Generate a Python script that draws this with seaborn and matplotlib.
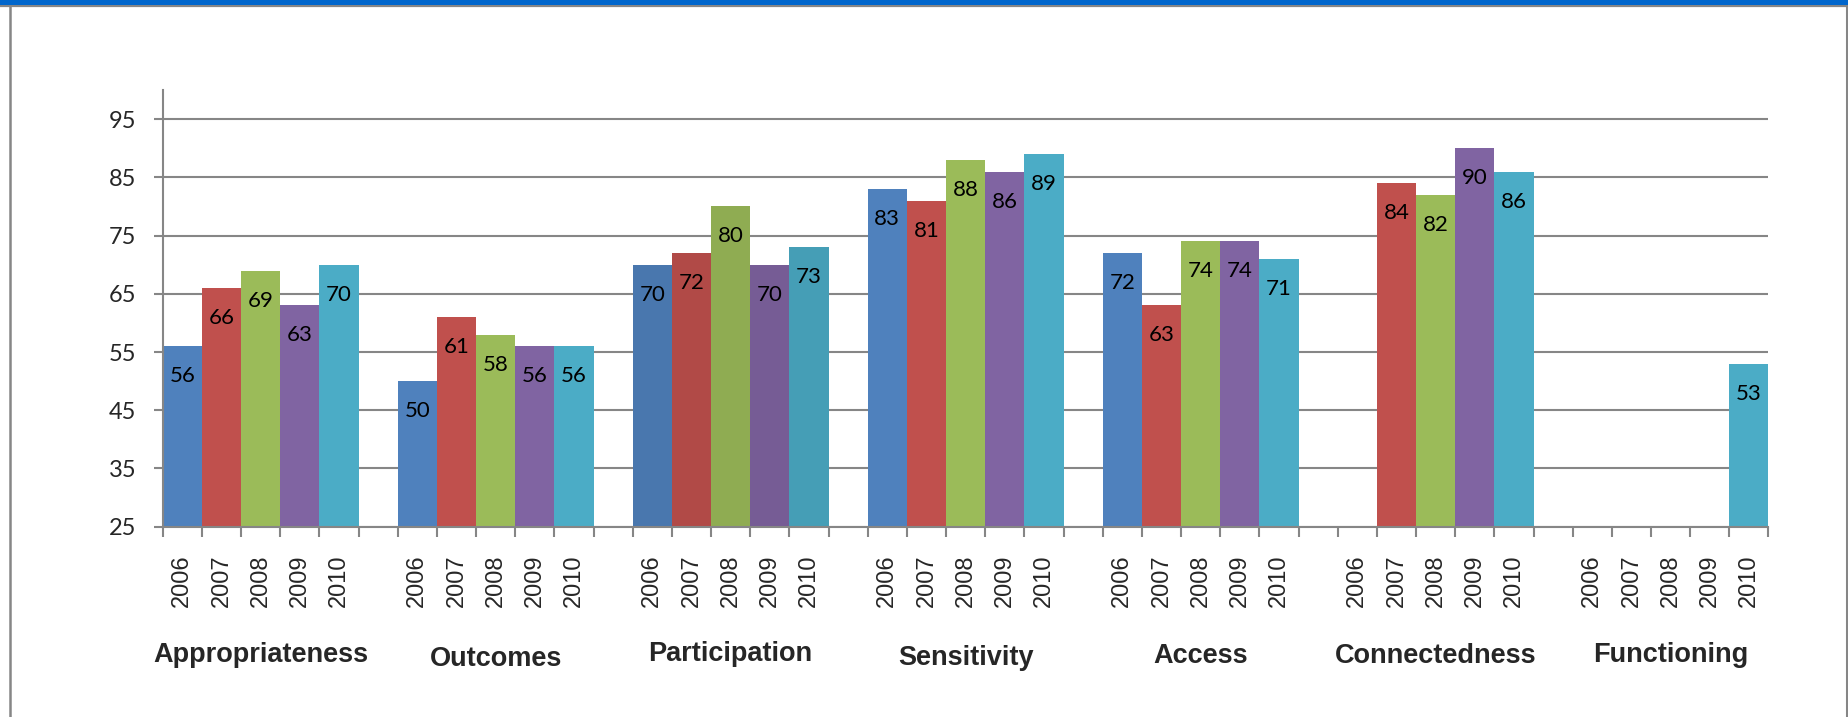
import numpy as np
import pandas as pd
import matplotlib
matplotlib.use("Agg")
import matplotlib.pyplot as plt
import matplotlib.transforms as mtransforms
from matplotlib.patches import Rectangle
from matplotlib.lines import Line2D
import seaborn as sns

# ---- data -------------------------------------------------------------
categories = ["Appropriateness", "Outcomes", "Participation", "Sensitivity",
              "Access", "Connectedness", "Functioning"]
years = ["2006", "2007", "2008", "2009", "2010"]

appropriateness = [56, 66, 69, 63, 70]
outcomes = [50, 61, 58, 56, 56]
participation = [70, 72, 80, 70, 73]
sensitivity = [83, 81, 88, 86, 89]
access = [72, 63, 74, 74, 71]
connectedness = [np.nan, 84, 82, 90, 86]
functioning = [np.nan, np.nan, np.nan, np.nan, 53]

series = [appropriateness, outcomes, participation, sensitivity,
          access, connectedness, functioning]

y_ticks = [25, 35, 45, 55, 65, 75, 85, 95]

year_colors = ["#4F81BD", "#C0504D", "#9BBB59", "#8064A2", "#4BACC6"]

# ---- layout helpers ---------------------------------------------------
W, H = 1849, 717
DPI = 100
GRAY = "#868686"
slots_per_group = len(years) + 1          # five bars + one empty slot
n_slots = len(categories) * slots_per_group - 1

slot_names = []
rows = []
for gi, cat in enumerate(categories):
    for yi, yr in enumerate(years):
        name = f"{cat}|{yr}"
        slot_names.append(name)
        v = series[gi][yi]
        if not np.isnan(v):
            rows.append({"slot": name, "value": v, "year": yr})
    if gi < len(categories) - 1:
        slot_names.append(f"gap{gi}")
df = pd.DataFrame(rows)

sns.set_style("white")
plt.rcParams["font.family"] = ["Liberation Sans", "DejaVu Sans"]

fig = plt.figure(figsize=(W / DPI, H / DPI), dpi=DPI)
ax = fig.add_axes([162.7 / W, (H - 526.7) / H, (1768.5 - 162.7) / W, (526.7 - 90) / H])

sns.barplot(data=df, x="slot", y="value", hue="year", order=slot_names,
            hue_order=years, palette=year_colors, dodge=False, width=1.0,
            saturation=1, legend=False, linewidth=0, ax=ax)

# the Participation group is drawn in a slightly deeper shade
for p in ax.patches:
    xc = p.get_x() + p.get_width() / 2
    gi = int(round(xc)) // slots_per_group
    if categories[gi] == "Participation":
        r, g, b, a = p.get_facecolor()
        p.set_facecolor((r * 0.92, g * 0.92, b * 0.92, a))

ax.set_xlim(-0.5, n_slots - 0.5)
ax.set_ylim(25, 100)
ax.set_xlabel("")
ax.set_ylabel("")

# grid and spines
ax.set_axisbelow(True)
ax.yaxis.grid(True, color=GRAY, linewidth=1.5)
ax.xaxis.grid(False)
for side in ("top", "right"):
    ax.spines[side].set_visible(False)
for side in ("left", "bottom"):
    ax.spines[side].set_color(GRAY)
    ax.spines[side].set_linewidth(1.5)
    ax.spines[side].set_zorder(3)

# y axis
ax.set_yticks(y_ticks)
ax.set_yticklabels([str(t) for t in y_ticks])
ax.tick_params(axis="y", which="major", length=6.8, width=1.5, color=GRAY,
               direction="out", pad=12, left=True, labelsize=17)

# x axis: year labels at slot centers, tick marks at slot boundaries
centers = [i for i, n in enumerate(slot_names) if not n.startswith("gap")]
ax.set_xticks(centers)
ax.set_xticklabels([n.split("|")[1] for n in slot_names if not n.startswith("gap")])
ax.set_xticks(np.arange(-0.5, n_slots, 1.0), minor=True)
ax.tick_params(axis="x", which="major", length=0, pad=20, bottom=True,
               labelsize=17, labelrotation=90)
ax.tick_params(axis="x", which="minor", length=7.2, width=1.5, color=GRAY,
               direction="out", bottom=True)

for lbl in ax.get_yticklabels():
    lbl.set_fontfamily("Lato")
    lbl.set_fontsize(17)
for lbl in ax.get_xticklabels():
    lbl.set_fontfamily("Liberation Sans")
    lbl.set_fontsize(17)
    lbl.set_rotation(90)

# value labels inside the top of each bar
for gi, cat in enumerate(categories):
    for yi, yr in enumerate(years):
        v = series[gi][yi]
        if np.isnan(v):
            continue
        pos = slot_names.index(f"{cat}|{yr}")
        ax.annotate(f"{v:g}", (pos, v), xytext=(0, -30), textcoords="offset pixels",
                    ha="center", va="center", fontsize=16, fontfamily="Lato",
                    color="black", zorder=5)

# category names under each group
label_baseline_px = [661.7, 665.7, 661.0, 665.0, 662.7, 663.0, 661.7]
trans = mtransforms.blended_transform_factory(ax.transData, fig.transFigure)
for gi, cat in enumerate(categories):
    gx = gi * slots_per_group + (len(years) - 1) / 2
    ax.text(gx, 1 - label_baseline_px[gi] / H, cat, transform=trans,
            ha="center", va="baseline", fontsize=19.5, fontweight="bold",
            fontfamily="Liberation Sans", clip_on=False)

# outer frame: blue band on top, gray rules at the sides
fig.patches.append(Rectangle((0, 1 - 5 / H), 1, 5 / H, transform=fig.transFigure,
                             facecolor="#0066CC", edgecolor="none", zorder=10))
fig.lines.append(Line2D([0, 1], [1 - 6 / H, 1 - 6 / H], transform=fig.transFigure,
                        color=GRAY, linewidth=1.6, zorder=10))
fig.lines.append(Line2D([10 / W, 10 / W], [0, 1 - 5 / H], transform=fig.transFigure,
                        color=GRAY, linewidth=1.8, zorder=10))
fig.lines.append(Line2D([1847.5 / W, 1847.5 / W], [0, 1 - 5 / H], transform=fig.transFigure,
                        color=GRAY, linewidth=2.2, zorder=10))

fig.savefig("out.png", dpi=DPI)
